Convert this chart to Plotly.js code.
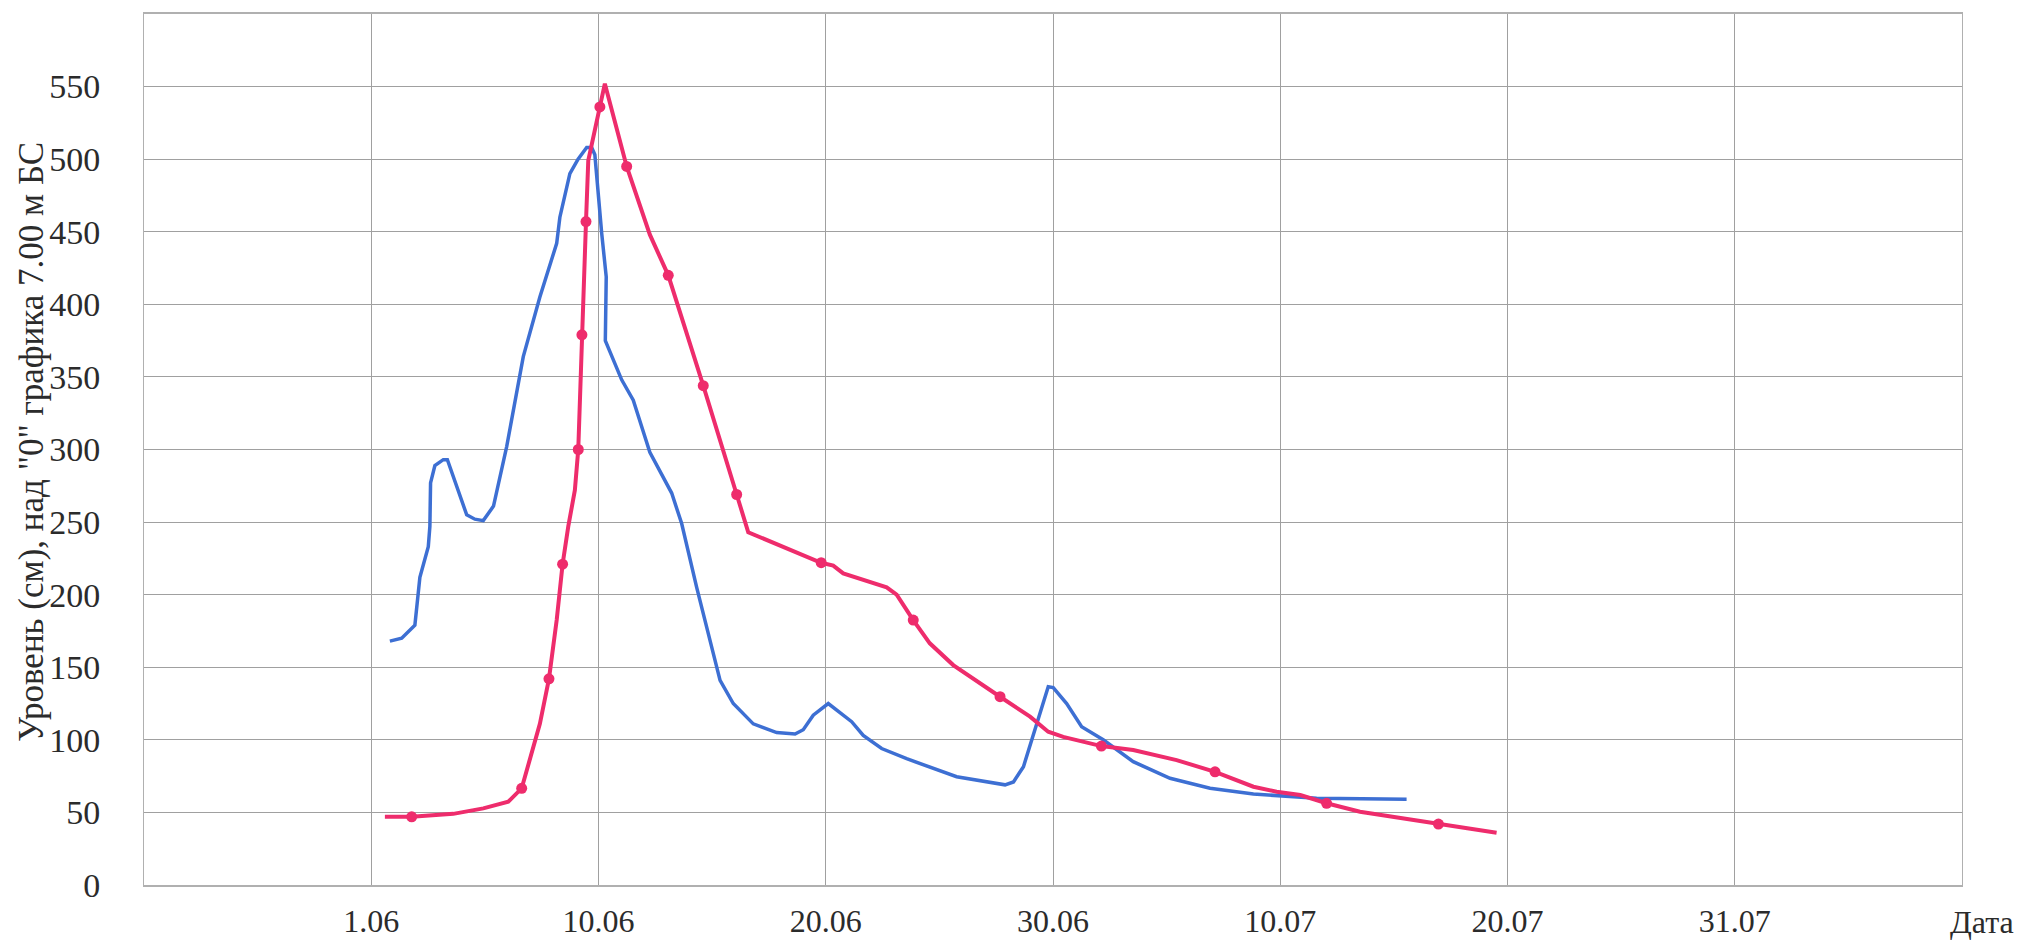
<!DOCTYPE html>
<html>
<head>
<meta charset="utf-8">
<script src="https://cdn.plot.ly/plotly-3.0.1.min.js"></script>
<style>html,body{margin:0;padding:0;background:#fff;}#chart{width:2022px;height:942px;}</style>
</head>
<body>
<div id="chart"></div>
<script>
// x position: 0 = "1.06", every 10 units = next labelled gridline
const tickPositions = [0, 10, 20, 30, 40, 50, 60];
const tickLabels = ["1.06", "10.06", "20.06", "30.06", "10.07", "20.07", "31.07"];
const yTicks = [0, 50, 100, 150, 200, 250, 300, 350, 400, 450, 500, 550];

// Blue series
const blueX = [0.82,1.34,1.92,2.14,2.51,2.58,2.61,2.80,3.17,3.35,4.20,4.56,4.93,5.15,5.38,5.96,6.69,7.42,8.16,8.30,8.74,9.10,9.48,9.70,9.84,10.14,10.34,10.30,11.02,11.53,12.26,13.22,13.66,14.32,15.35,15.93,16.81,17.84,18.65,19.01,19.45,20.11,21.14,21.65,22.46,23.56,25.76,27.89,28.26,28.70,29.79,30.01,30.60,31.26,32.21,33.53,35.15,36.91,38.82,41.6,45.56];
const blueY = [168,170,179,212,233,247,277,289,293,293,255,252,251,256,261,302,364,405,442,460,490,500,508,508,503,449,419,375,348,334,298,270,249,205,141,125,111,105,104,107,117,125,112.5,103,94,87,74.6,69,71,81.5,136.6,136,125,109,100,85,73.5,66.6,62.7,59.7,59];

// Red series (line)
const redX = [0.6,1.78,3.61,4.93,6.03,6.62,7.42,7.82,8.16,8.42,8.67,8.96,9.11,9.21,9.27,9.36,9.45,9.55,10.06,10.28,11.24,11.68,12.26,13.07,14.61,16.08,16.59,19.8,20.33,20.77,22.68,23.12,23.85,24.58,25.61,27.67,28.99,29.79,30.45,32.13,33.53,35.44,37.13,38.82,39.84,40.88,42.04,43.51,46.96,49.52];
const redY = [47,47,49,52.8,57.4,66.6,111,142,182.5,221,247,272,300,348,379,430,457,499,536,552,495,474,448,420,344,269,243,222,220,214.7,205,200,182.5,166.5,151.5,129.7,116,105.6,102,95.7,93,86,78,67.7,64.3,62,56.3,50.5,42,36];

// Red series: marked observation points
const redMarkX = [1.78,6.62,7.82,8.42,9.11,9.27,9.45,10.06,11.24,13.07,14.61,16.08,19.8,23.85,27.67,32.13,37.13,42.04,46.96];
const redMarkY = [47,66.6,142,221,300,379,457,536,495,420,344,269,222,182.5,129.7,95.7,78,56.3,42];

const yTitle = 'Уровень (см), над "0" графика 7.00 м БС';
const xTitle = 'Дата';

const BLUE = '#3d6fd3';
const RED = '#ee2c6c';
const FONT = '"Liberation Serif", "DejaVu Serif", serif';
const TXT = '#2b2b2b';

const traces = [
  {x: blueX, y: blueY, type: 'scatter', mode: 'lines', line: {color: BLUE, width: 3.5}, hoverinfo: 'skip'},
  {x: redX, y: redY, type: 'scatter', mode: 'lines', line: {color: RED, width: 4}, hoverinfo: 'skip'},
  {x: redMarkX, y: redMarkY, type: 'scatter', mode: 'markers', marker: {color: RED, size: 11, symbol: 'circle'}, hoverinfo: 'skip'}
];

const layout = {
  width: 2022, height: 942,
  paper_bgcolor: '#fff', plot_bgcolor: '#fff',
  showlegend: false,
  margin: {l: 144, r: 60, t: 14, b: 57},
  font: {family: FONT, size: 33, color: TXT},
  xaxis: {
    range: [-10, 70],
    tickvals: tickPositions, ticktext: tickLabels,
    showgrid: true, gridcolor: '#a0a0a0', gridwidth: 1,
    zeroline: false,
    showline: true, linecolor: '#b0b0b0', linewidth: 2, mirror: true,
    ticks: '', ticklabelstandoff: 7,
    tickfont: {family: FONT, size: 32, color: TXT}
  },
  yaxis: {
    range: [0, 600],
    tickvals: yTicks,
    showgrid: true, gridcolor: '#a0a0a0', gridwidth: 1,
    zeroline: false,
    showline: true, linecolor: '#b0b0b0', linewidth: 1, mirror: true,
    ticks: '', ticklabelstandoff: 36,
    tickfont: {family: FONT, size: 34, color: TXT}
  },
  annotations: [
    {text: yTitle, xref: 'paper', yref: 'paper', x: -0.0616, y: 0.509, xanchor: 'center', yanchor: 'middle',
     textangle: -90, showarrow: false, font: {family: FONT, size: 35, color: TXT}},
    {text: xTitle, xref: 'paper', yref: 'paper', x: 1.011, y: -0.0425, xanchor: 'center', yanchor: 'middle',
     showarrow: false, font: {family: FONT, size: 32, color: TXT}}
  ]
};

Plotly.newPlot('chart', traces, layout, {staticPlot: true, displayModeBar: false});
</script>
</body>
</html>
